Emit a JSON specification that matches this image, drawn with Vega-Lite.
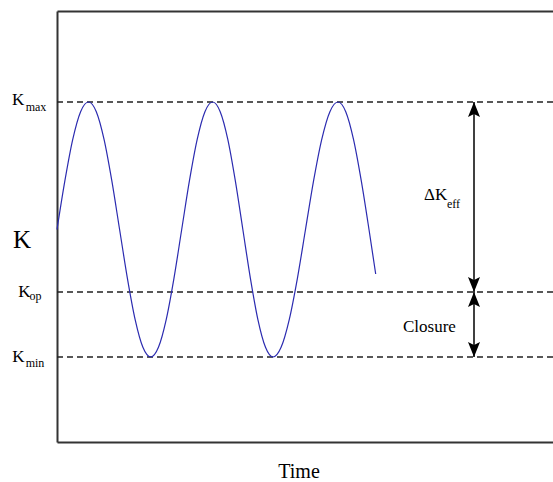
{
  "$schema": "https://vega.github.io/schema/vega-lite/v6.json",
  "autosize": "none",
  "width": 496,
  "height": 431,
  "padding": {"left": 57, "top": 11, "right": 0, "bottom": 40},
  "background": "white",
  "config": {
    "view": {"stroke": null},
    "font": "Liberation Serif",
    "text": {"font": "Liberation Serif"},
    "axis": {"labels": false, "ticks": false, "grid": false, "domain": true, "domainColor": "#333", "domainWidth": 2}
  },
  "datasets": {
    "wave": [
      {"t": 0, "k": 212.5}, {"t": 7.9, "k": 261.3}, {"t": 15.75, "k": 302.6}, {"t": 23.6, "k": 330.3}, {"t": 31.5, "k": 340},
      {"t": 39.3, "k": 330.3}, {"t": 47.05, "k": 302.6}, {"t": 54.8, "k": 261.3}, {"t": 62.6, "k": 212.5}, {"t": 70.4, "k": 163.7}, {"t": 78.15, "k": 122.4}, {"t": 85.9, "k": 94.7}, {"t": 93.7, "k": 85},
      {"t": 101.45, "k": 94.7}, {"t": 109.2, "k": 122.4}, {"t": 116.95, "k": 163.7}, {"t": 124.7, "k": 212.5}, {"t": 132.45, "k": 261.3}, {"t": 140.2, "k": 302.6}, {"t": 147.95, "k": 330.3}, {"t": 155.7, "k": 340},
      {"t": 163.2, "k": 330.3}, {"t": 170.8, "k": 302.6}, {"t": 178.3, "k": 261.3}, {"t": 185.85, "k": 212.5}, {"t": 193.4, "k": 163.7}, {"t": 200.9, "k": 122.4}, {"t": 208.5, "k": 94.7}, {"t": 216, "k": 85},
      {"t": 224.1, "k": 94.7}, {"t": 232.25, "k": 122.4}, {"t": 240.4, "k": 163.7}, {"t": 248.5, "k": 212.5}, {"t": 256.6, "k": 261.3}, {"t": 264.75, "k": 302.6}, {"t": 272.9, "k": 330.3}, {"t": 281, "k": 340},
      {"t": 288.75, "k": 330.3}, {"t": 296.5, "k": 302.6}, {"t": 304.25, "k": 261.3}, {"t": 312, "k": 212.5}, {"t": 318.7, "k": 168}
    ],
    "levels": [
      {"name": "Kmax", "k": 340},
      {"name": "Kop", "k": 150},
      {"name": "Kmin", "k": 85}
    ],
    "arrows": [
      {"t": 417, "k": 340, "dir": "up"},
      {"t": 417, "k": 150, "dir": "down"},
      {"t": 417, "k": 150, "dir": "up"},
      {"t": 417, "k": 85, "dir": "down"}
    ],
    "labels": [
      {"text": "K", "kind": "big", "t": -44, "k": 194},
      {"text": "K", "kind": "main", "t": -45, "k": 337},
      {"text": "max", "kind": "sub", "t": -31.3, "k": 331},
      {"text": "K", "kind": "main", "t": -38.7, "k": 145.3},
      {"text": "op", "kind": "sub", "t": -27.5, "k": 142.5},
      {"text": "K", "kind": "main", "t": -44.7, "k": 80.3},
      {"text": "min", "kind": "sub", "t": -31.3, "k": 74.7},
      {"text": "ΔK", "kind": "main", "t": 367, "k": 242},
      {"text": "eff", "kind": "sub", "t": 390, "k": 234},
      {"text": "Closure", "kind": "main", "t": 346, "k": 110}
    ]
  },
  "layer": [
    {
      "data": {"name": "levels"},
      "mark": {"type": "rule", "strokeDash": [6, 4], "strokeWidth": 1.5, "color": "#222"},
      "encoding": {
        "y": {"field": "k", "type": "quantitative", "title": null, "scale": {"domain": [0, 431], "nice": false, "zero": false},
              "axis": {"orient": "left", "title": null}}
      }
    },
    {
      "data": {"name": "wave"},
      "mark": {"type": "line", "interpolate": "monotone", "color": "#2b2bb0", "strokeWidth": 1.2},
      "encoding": {
        "x": {"field": "t", "type": "quantitative", "scale": {"domain": [0, 496], "nice": false, "zero": false},
              "axis": {"orient": "bottom", "title": "Time", "titleFont": "Liberation Serif", "titleFontSize": 20, "titleFontWeight": "normal", "titleColor": "#000", "titlePadding": 19, "titleX": 241.5}},
        "y": {"field": "k", "type": "quantitative", "title": null}
      }
    },
    {
      "data": {"name": "arrows"},
      "mark": {"type": "rule", "color": "#000", "strokeWidth": 1.5},
      "encoding": {
        "x": {"field": "t", "type": "quantitative", "aggregate": "min", "axis": {"orient": "top", "title": null}},
        "y": {"field": "k", "type": "quantitative", "aggregate": "max", "title": null},
        "y2": {"field": "k", "aggregate": "min"}
      }
    },
    {
      "data": {"name": "arrows"},
      "mark": {"type": "point", "filled": true, "opacity": 1, "color": "#000", "size": 225, "strokeWidth": 0},
      "encoding": {
        "x": {"field": "t", "type": "quantitative", "axis": null},
        "y": {"field": "k", "type": "quantitative", "title": null},
        "shape": {"field": "dir", "type": "nominal", "legend": null,
                  "scale": {"domain": ["up", "down"], "range": ["M0,0L0.8,2L0,1.6L-0.8,2Z", "M0,0L0.8,-2L0,-1.6L-0.8,-2Z"]}}
      }
    },
    {
      "data": {"name": "labels"},
      "transform": [{"filter": "datum.kind === 'big'"}],
      "mark": {"type": "text", "align": "left", "baseline": "alphabetic", "font": "Liberation Serif", "fontSize": 25, "color": "#000"},
      "encoding": {"x": {"field": "t", "type": "quantitative", "axis": null}, "y": {"field": "k", "type": "quantitative", "title": null}, "text": {"field": "text"}}
    },
    {
      "data": {"name": "labels"},
      "transform": [{"filter": "datum.kind === 'main'"}],
      "mark": {"type": "text", "align": "left", "baseline": "alphabetic", "font": "Liberation Serif", "fontSize": 17, "color": "#000"},
      "encoding": {"x": {"field": "t", "type": "quantitative", "axis": null}, "y": {"field": "k", "type": "quantitative", "title": null}, "text": {"field": "text"}}
    },
    {
      "data": {"name": "labels"},
      "transform": [{"filter": "datum.kind === 'sub'"}],
      "mark": {"type": "text", "align": "left", "baseline": "alphabetic", "font": "Liberation Serif", "fontSize": 12, "color": "#000"},
      "encoding": {"x": {"field": "t", "type": "quantitative", "axis": null}, "y": {"field": "k", "type": "quantitative", "title": null}, "text": {"field": "text"}}
    }
  ]
}
